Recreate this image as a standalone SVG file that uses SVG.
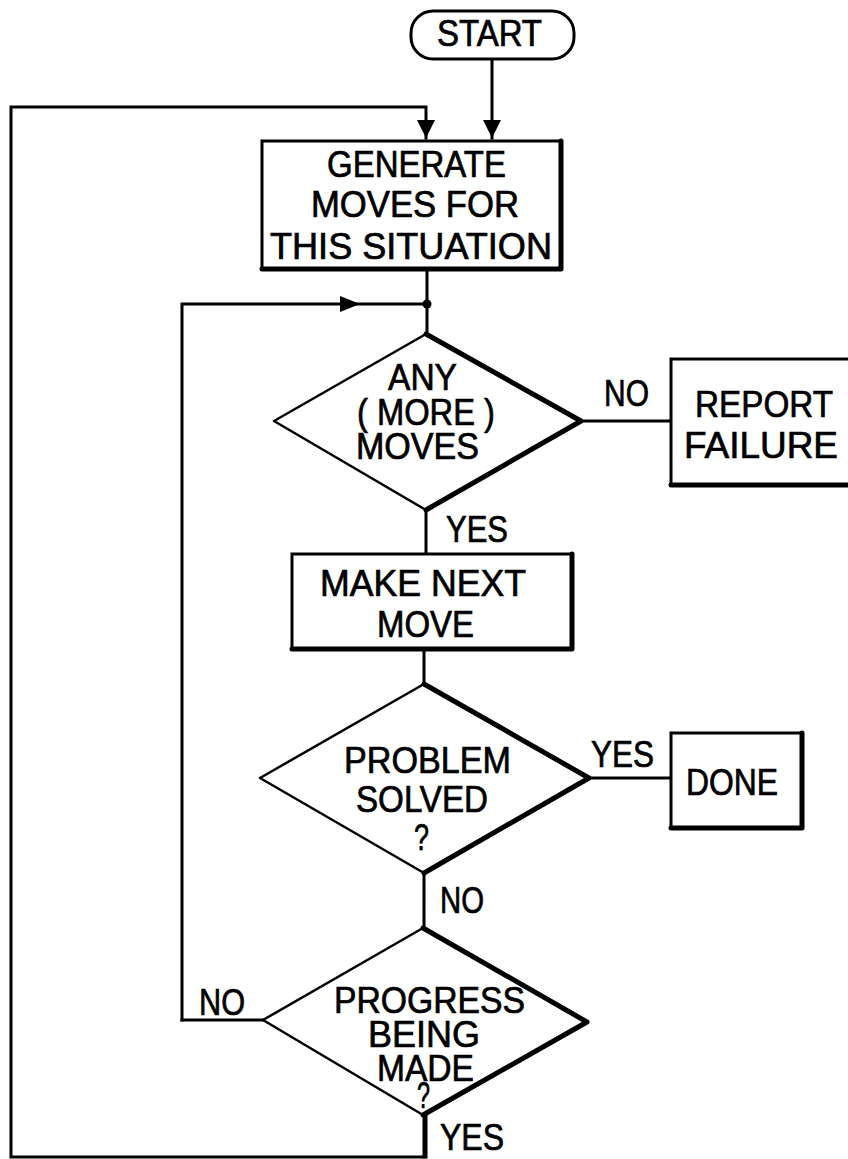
<svg xmlns="http://www.w3.org/2000/svg" width="848" height="1159" viewBox="0 0 848 1159">
<style>
.t{font-family:"Liberation Sans",Arial,sans-serif;font-size:36px;fill:#000;stroke:#000;stroke-width:0.7;text-anchor:start}
.ln{fill:none;stroke:#000;stroke-width:3;stroke-linecap:square}
.box{fill:#fff;stroke:#000;stroke-width:3}
.heavy{fill:none;stroke:#000;stroke-width:5;stroke-linecap:round;stroke-linejoin:round}
.dia{fill:#fff;stroke:#000;stroke-width:2.5;stroke-linejoin:round}
</style>
<defs>
<marker id="ah" viewBox="0 0 10 10" refX="10" refY="5" markerWidth="6" markerHeight="6" markerUnits="strokeWidth" orient="auto">
<path d="M0,0 L10,5 L0,10 z" fill="#000"/>
</marker>
</defs>
<rect width="848" height="1159" fill="#fff"/>
<g id="connectors">
<path class="ln" d="M492,60 V138" marker-end="url(#ah)"/>
<path class="ln" d="M426,1157 V1115 M426,1157 H11 V107 H426 V138" marker-end="url(#ah)"/>
<path class="ln" d="M427,270 V334"/>
<path class="ln" d="M182,1020 V304 H427"/>
<path d="M340,296 L360,304 L340,312 z" fill="#000"/>
<circle cx="427" cy="304" r="4.5" fill="#000"/>
<path class="ln" d="M580,421 H671"/>
<path class="ln" d="M426,510 V554"/>
<path class="ln" d="M424,649 V684"/>
<path class="ln" d="M589,778 H671"/>
<path class="ln" d="M424,873 V928"/>
<path class="ln" d="M263,1020 H182"/>
<path class="ln" d="M424,1115 V1157"/>
</g>
<g id="start">
<rect x="411" y="11" width="163" height="48" rx="22" ry="22" class="box"/>
<text class="t" x="437" y="46" textLength="105" lengthAdjust="spacingAndGlyphs">START</text>
</g>
<g id="generate">
<rect x="262" y="141" width="299" height="128" class="box"/>
<path class="heavy" d="M262,269 H561 V141"/>
<text class="t" x="327" y="177" textLength="179" lengthAdjust="spacingAndGlyphs">GENERATE</text>
<text class="t" x="311" y="217" textLength="208" lengthAdjust="spacingAndGlyphs">MOVES FOR</text>
<text class="t" x="270" y="259" textLength="282" lengthAdjust="spacingAndGlyphs">THIS SITUATION</text>
</g>
<g id="any-moves">
<polygon class="dia" points="426,334 581,421 426,510 274,421"/>
<path class="heavy" d="M426,334 L581,421 L426,510"/>
<text class="t" x="388" y="390" textLength="69" lengthAdjust="spacingAndGlyphs">ANY</text>
<text class="t" x="357" y="425" font-size="34" textLength="138" lengthAdjust="spacingAndGlyphs">( MORE )</text>
<text class="t" x="356" y="459" textLength="123" lengthAdjust="spacingAndGlyphs">MOVES</text>
</g>
<g id="report-failure">
<rect x="671" y="359" width="200" height="126" class="box"/>
<path class="heavy" d="M671,485 H860"/>
<text class="t" x="695" y="417" textLength="138" lengthAdjust="spacingAndGlyphs">REPORT</text>
<text class="t" x="684" y="458" textLength="154" lengthAdjust="spacingAndGlyphs">FAILURE</text>
</g>
<g id="make-next-move">
<rect x="292" y="554" width="280" height="95" class="box"/>
<path class="heavy" d="M292,649 H572 V554"/>
<text class="t" x="320" y="596" textLength="206" lengthAdjust="spacingAndGlyphs">MAKE NEXT</text>
<text class="t" x="377" y="637" textLength="97" lengthAdjust="spacingAndGlyphs">MOVE</text>
</g>
<g id="problem-solved">
<polygon class="dia" points="424,684 589,778 424,873 260,778"/>
<path class="heavy" d="M424,684 L589,778 L424,873"/>
<text class="t" x="344" y="773" textLength="167" lengthAdjust="spacingAndGlyphs">PROBLEM</text>
<text class="t" x="356" y="812" textLength="132" lengthAdjust="spacingAndGlyphs">SOLVED</text>
<text class="t" x="414" y="850" textLength="15" lengthAdjust="spacingAndGlyphs">?</text>
</g>
<g id="done">
<rect x="671" y="733" width="131" height="95" class="box"/>
<path class="heavy" d="M671,828 H802 V733"/>
<text class="t" x="686" y="795" textLength="92" lengthAdjust="spacingAndGlyphs">DONE</text>
</g>
<g id="progress">
<polygon class="dia" points="423,928 587,1022 423,1115 263,1020"/>
<path class="heavy" d="M423,928 L587,1022 L423,1115"/>
<text class="t" x="334" y="1013" textLength="191" lengthAdjust="spacingAndGlyphs">PROGRESS</text>
<text class="t" x="368" y="1047" textLength="112" lengthAdjust="spacingAndGlyphs">BEING</text>
<text class="t" x="377" y="1081" textLength="97" lengthAdjust="spacingAndGlyphs">MADE</text>
<text class="t" x="417" y="1108" font-size="26" textLength="13" lengthAdjust="spacingAndGlyphs">?</text>
</g>
<g id="labels">
<text class="t" x="604" y="406" textLength="45" lengthAdjust="spacingAndGlyphs">NO</text>
<text class="t" x="446" y="542" textLength="62" lengthAdjust="spacingAndGlyphs">YES</text>
<text class="t" x="591" y="767" textLength="63" lengthAdjust="spacingAndGlyphs">YES</text>
<text class="t" x="440" y="913" textLength="44" lengthAdjust="spacingAndGlyphs">NO</text>
<text class="t" x="199" y="1015" textLength="46" lengthAdjust="spacingAndGlyphs">NO</text>
<text class="t" x="440" y="1150" textLength="64" lengthAdjust="spacingAndGlyphs">YES</text>
</g>
</svg>
